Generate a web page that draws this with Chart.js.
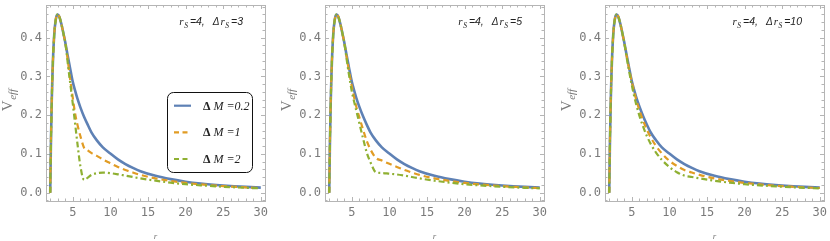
<!DOCTYPE html>
<html><head><meta charset="utf-8">
<script src="https://cdn.jsdelivr.net/npm/chart.js@4/dist/chart.umd.min.js"></script>
<style>
html,body{margin:0;padding:0;background:#fff;width:830px;height:241px;overflow:hidden}
.p{position:absolute;top:0;width:271px;height:241px}
</style></head><body>
<div class="p" style="left:0"><canvas id="c1"></canvas></div>
<div class="p" style="left:279px"><canvas id="c2"></canvas></div>
<div class="p" style="left:559px"><canvas id="c3"></canvas></div>
<script>
// ---- data ----
const rValues = [2, 2.1, 2.2, 2.3, 2.4, 2.5, 2.6, 2.8, 3, 3.2, 3.5, 3.8, 4, 4.3, 4.6, 5, 5.3, 5.6, 6, 6.5, 7, 7.5, 8.2, 9, 10, 11, 12, 13, 14, 16, 18, 20, 22, 25, 28, 30];
const xTickValues = [5, 10, 15, 20, 25, 30];
const yTickValues = [0, 0.1, 0.2, 0.3, 0.4];
const deltaMLabels = ['0.2', '1', '2'];
const deltaRsLabels = ['3', '5', '10'];
const rsLabel = '4';

const p1Blue   = [0, 0.134, 0.233, 0.306, 0.359, 0.397, 0.424, 0.453, 0.460, 0.455, 0.434, 0.407, 0.388, 0.356, 0.326, 0.286, 0.264, 0.244, 0.221, 0.196, 0.175, 0.155, 0.135, 0.117, 0.101, 0.086, 0.074, 0.064, 0.0555, 0.0435, 0.035, 0.0285, 0.0238, 0.0188, 0.015, 0.0132];
const p1Orange = [0, 0.134, 0.233, 0.306, 0.359, 0.397, 0.424, 0.453, 0.460, 0.455, 0.434, 0.407, 0.388, 0.348, 0.300, 0.245, 0.205, 0.177, 0.147, 0.116, 0.109, 0.102, 0.095, 0.086, 0.076, 0.0665, 0.0585, 0.052, 0.046, 0.037, 0.0305, 0.0253, 0.0214, 0.017, 0.0138, 0.0121];
const p1Green  = [0, 0.134, 0.233, 0.306, 0.359, 0.397, 0.424, 0.453, 0.460, 0.455, 0.434, 0.407, 0.388, 0.340, 0.292, 0.230, 0.180, 0.130, 0.070, 0.033, 0.039, 0.046, 0.0505, 0.052, 0.0505, 0.0475, 0.044, 0.0405, 0.037, 0.031, 0.026, 0.022, 0.019, 0.0154, 0.0126, 0.0112];

const p2Blue   = [0, 0.134, 0.233, 0.306, 0.359, 0.397, 0.424, 0.453, 0.460, 0.455, 0.434, 0.407, 0.388, 0.356, 0.326, 0.287, 0.265, 0.245, 0.222, 0.197, 0.175, 0.155, 0.135, 0.117, 0.101, 0.086, 0.074, 0.064, 0.0555, 0.0435, 0.035, 0.0285, 0.0238, 0.0188, 0.015, 0.0132];
const p2Orange = [0, 0.134, 0.233, 0.306, 0.359, 0.397, 0.424, 0.453, 0.460, 0.455, 0.434, 0.407, 0.388, 0.352, 0.318, 0.275, 0.247, 0.222, 0.195, 0.163, 0.133, 0.111, 0.090, 0.083, 0.0745, 0.0665, 0.0585, 0.052, 0.046, 0.037, 0.0305, 0.0253, 0.0214, 0.017, 0.0138, 0.0121];
const p2Green  = [0, 0.134, 0.233, 0.306, 0.359, 0.397, 0.424, 0.453, 0.460, 0.455, 0.434, 0.407, 0.388, 0.347, 0.308, 0.262, 0.236, 0.212, 0.180, 0.140, 0.103, 0.078, 0.053, 0.051, 0.049, 0.0470, 0.044, 0.0405, 0.037, 0.031, 0.026, 0.022, 0.019, 0.0154, 0.0126, 0.0112];

const p3Blue   = [0, 0.134, 0.233, 0.306, 0.359, 0.397, 0.424, 0.453, 0.460, 0.455, 0.434, 0.407, 0.388, 0.357, 0.327, 0.288, 0.266, 0.246, 0.223, 0.198, 0.176, 0.156, 0.136, 0.117, 0.101, 0.086, 0.074, 0.064, 0.0555, 0.0435, 0.035, 0.0285, 0.0238, 0.0188, 0.015, 0.0132];
const p3Orange = [0, 0.134, 0.233, 0.306, 0.359, 0.397, 0.424, 0.453, 0.460, 0.455, 0.434, 0.407, 0.388, 0.354, 0.324, 0.2865, 0.2618, 0.2396, 0.2136, 0.1868, 0.1628, 0.1435, 0.1213, 0.1015, 0.0824, 0.069, 0.0585, 0.052, 0.046, 0.037, 0.0305, 0.0253, 0.0214, 0.017, 0.0138, 0.0121];
const p3Green  = [0, 0.134, 0.233, 0.306, 0.359, 0.397, 0.424, 0.453, 0.460, 0.455, 0.434, 0.407, 0.388, 0.3513, 0.3182, 0.2778, 0.2510, 0.2271, 0.1993, 0.1712, 0.1464, 0.1266, 0.1043, 0.0848, 0.0664, 0.0529, 0.044, 0.0405, 0.037, 0.031, 0.026, 0.022, 0.019, 0.0154, 0.0126, 0.0112];

// ---- styles ----
const COLORS = ['#5E81B5', '#E19C24', '#8FB032'];
const DASHES = [[], [6, 4], [6, 3, 2, 3]];
const FRAME = '#b5b5b5';
const LABEL = '#7a7a7a';

function drawRuns(ctx, x, y, runs, align) {
  let w = 0;
  runs.forEach(r => { ctx.font = r.font; r.w = ctx.measureText(r.t).width; w += r.w + (r.gap || 0); });
  let cx = align === 'right' ? x - w : align === 'center' ? x - w / 2 : x;
  runs.forEach(r => {
    ctx.font = r.font; ctx.fillStyle = r.color || '#222';
    ctx.fillText(r.t, cx, y + (r.dy || 0));
    cx += r.w + (r.gap || 0);
  });
}

const framePlugin = {
  id: 'frameTicks',
  beforeDatasetsDraw(chart) {
    const {ctx, chartArea: a, scales: {x, y}} = chart;
    ctx.save();
    ctx.strokeStyle = FRAME; ctx.lineWidth = 1;
    ctx.beginPath();
    for (let v = 2; v <= 30; v++) {
      const px = Math.round(x.getPixelForValue(v)) + 0.5;
      const L = v % 5 === 0 ? 4 : 2.5;
      ctx.moveTo(px, a.bottom); ctx.lineTo(px, a.bottom - L);
      ctx.moveTo(px, a.top); ctx.lineTo(px, a.top + L);
    }
    for (let k = -1; k <= 24; k++) {
      const py = Math.round(y.getPixelForValue(k * 0.02)) + 0.5;
      const L = k % 5 === 0 ? 4 : 2.5;
      ctx.moveTo(a.left, py); ctx.lineTo(a.left + L, py);
      ctx.moveTo(a.right, py); ctx.lineTo(a.right - L, py);
    }
    ctx.stroke();
    ctx.strokeRect(Math.round(a.left) + 0.5, Math.round(a.top) + 0.5, Math.round(a.right - a.left), Math.round(a.bottom - a.top));
    ctx.restore();
  },
  afterDatasetsDraw(chart, args, opts) {
    const {ctx, chartArea: a} = chart;
    ctx.save();
    ctx.textBaseline = 'alphabetic';
    // annotation
    const it = 'italic 11px "Liberation Serif"';
    const sub = 'italic 7.5px "Liberation Serif"';
    const num = 'italic 10.5px "Liberation Sans"';
    drawRuns(ctx, a.right - 22, 25, [
      {t: 'r', font: it, gap: 0.5}, {t: 'S', font: sub, dy: 2.5, gap: 2},
      {t: '=' + rsLabel + ',', font: num, gap: 8},
      {t: '\u0394', font: 'italic 10px "Liberation Sans"', gap: 1}, {t: 'r', font: it, gap: 0.5}, {t: 'S', font: sub, dy: 2.5, gap: 2},
      {t: '=' + opts.drs, font: num}
    ], 'right');
    // y title
    ctx.save();
    ctx.translate(12, (a.top + a.bottom) / 2 - 3);
    ctx.rotate(-Math.PI / 2);
    drawRuns(ctx, 0, 0, [
      {t: 'V', font: '15px "Liberation Serif"', color: LABEL, gap: 0.5},
      {t: 'eff', font: 'italic 11px "Liberation Serif"', color: LABEL, dy: 4}
    ], 'center');
    ctx.restore();
    // x title
    drawRuns(ctx, (a.left + a.right) / 2, 239, [{t: 'r', font: 'italic 9px "Liberation Serif"', color: LABEL}], 'center');
    // legend
    if (opts.legend) {
      const bx = a.right - 98, by = a.top + 87, bw = 85, bh = 80;
      ctx.fillStyle = '#fff'; ctx.strokeStyle = '#111'; ctx.lineWidth = 1;
      ctx.beginPath();
      ctx.roundRect(bx + 0.5, by + 0.5, bw, bh, 6);
      ctx.fill(); ctx.stroke();
      const rows = [13.7, 40.3, 67];
      deltaMLabels.forEach((lab, i) => {
        const yy = by + rows[i];
        ctx.strokeStyle = COLORS[i]; ctx.lineWidth = 2.2; ctx.setLineDash(i === 0 ? [] : [5, 3.5]);
        ctx.beginPath(); ctx.moveTo(bx + 7, yy); ctx.lineTo(bx + 24, yy); ctx.stroke();
        ctx.setLineDash([]);
        drawRuns(ctx, bx + 36, yy + 4, [
          {t: '\u0394', font: 'bold 12px "Liberation Serif"', gap: 3},
          {t: 'M', font: 'italic 12px "Liberation Serif"', gap: 3},
          {t: '=' + lab, font: 'italic 12px "Liberation Serif"'}
        ], 'left');
      });
    }
    ctx.restore();
  }
};

function makeChart(id, series, drs, legend) {
  const datasets = series.map((vals, i) => ({
    label: '\u0394M=' + deltaMLabels[i],
    data: rValues.map((r, k) => ({x: r, y: vals[k]})),
    borderColor: COLORS[i],
    borderWidth: i === 0 ? 2.6 : 2.2,
    borderDash: DASHES[i],
    pointRadius: 0,
    fill: false,
    cubicInterpolationMode: 'monotone',
    order: 3 - i
  }));
  return new Chart(document.getElementById(id), {
    type: 'line',
    data: {datasets},
    options: {
      responsive: true, maintainAspectRatio: false, animation: false, devicePixelRatio: 1,
      layout: {padding: {top: 5, right: 6, left: 0, bottom: 0}},
      plugins: {legend: {display: false}, tooltip: {enabled: false}, frameTicks: {drs, legend}},
      scales: {
        x: {
          type: 'linear', min: 1.44, max: 30.56,
          grid: {display: false, drawTicks: false, tickLength: 0}, border: {display: false},
          afterBuildTicks: s => { s.ticks = xTickValues.map(v => ({value: v})); },
          afterFit: s => { s.height = 40; s.paddingLeft = 0; s.paddingRight = 0; },
          ticks: {color: LABEL, font: {family: '"DejaVu Sans Mono"', size: 12}, padding: 5, maxRotation: 0, autoSkip: false, callback: v => String(v)}
        },
        y: {
          type: 'linear', min: -0.0214, max: 0.4844,
          grid: {display: false, drawTicks: false, tickLength: 0}, border: {display: false},
          afterBuildTicks: s => { s.ticks = yTickValues.map(v => ({value: v})); },
          afterFit: s => { s.width = 46; s.paddingTop = 0; s.paddingBottom = 0; },
          ticks: {color: LABEL, font: {family: '"DejaVu Sans Mono"', size: 12}, padding: 4, callback: v => Number(v).toFixed(1)}
        }
      }
    },
    plugins: [framePlugin]
  });
}

makeChart('c1', [p1Blue, p1Orange, p1Green], deltaRsLabels[0], true);
makeChart('c2', [p2Blue, p2Orange, p2Green], deltaRsLabels[1], false);
makeChart('c3', [p3Blue, p3Orange, p3Green], deltaRsLabels[2], false);
</script>
</body></html>
